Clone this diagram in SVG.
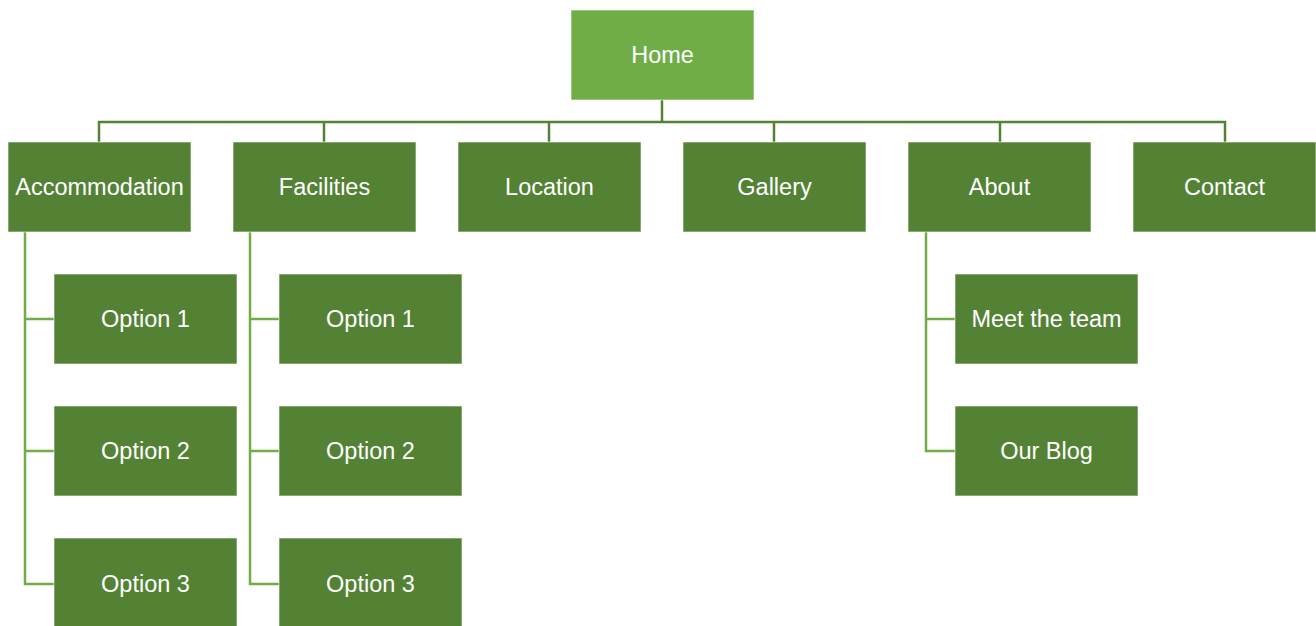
<svg xmlns="http://www.w3.org/2000/svg" width="1316" height="626" viewBox="0 0 1316 626">
<style>
.box{fill:#548235;stroke:#ffffff;stroke-width:1;stroke-opacity:0.6}
.root{fill:#70AD47;stroke:#ffffff;stroke-width:1;stroke-opacity:0.6}
text{font-family:"Liberation Sans",Arial,sans-serif;font-size:23.5px;fill:#ffffff;text-anchor:middle}
.top{fill:none;stroke:#548235;stroke-width:2.5}
.side{fill:none;stroke:#70AD47;stroke-width:2.5}
</style>
<rect width="1316" height="626" fill="#ffffff"/>
<g id="connectors">
<path class="top" d="M662 100V122M99 142V122H1225V142M324 122V142M549 122V142M774 122V142M1000 122V142"/>
<path class="side" d="M25 232V584H54M25 319H54M25 451H54"/>
<path class="side" d="M250 232V584H279M250 319H279M250 451H279"/>
<path class="side" d="M926 232V451H955M926 319H955"/>
</g>
<g id="home"><rect class="root" x="571" y="10" width="183" height="90"/><text x="662.5" y="63">Home</text></g>
<g id="accommodation"><rect class="box" x="8" y="142" width="183" height="90"/><text x="99.5" y="195">Accommodation</text></g>
<g id="facilities"><rect class="box" x="233" y="142" width="183" height="90"/><text x="324.5" y="195">Facilities</text></g>
<g id="location"><rect class="box" x="458" y="142" width="183" height="90"/><text x="549.5" y="195">Location</text></g>
<g id="gallery"><rect class="box" x="683" y="142" width="183" height="90"/><text x="774.5" y="195">Gallery</text></g>
<g id="about"><rect class="box" x="908" y="142" width="183" height="90"/><text x="999.5" y="195">About</text></g>
<g id="contact"><rect class="box" x="1133" y="142" width="183" height="90"/><text x="1224.5" y="195">Contact</text></g>
<g id="acc-option1"><rect class="box" x="54" y="274" width="183" height="90"/><text x="145.5" y="327">Option 1</text></g>
<g id="acc-option2"><rect class="box" x="54" y="406" width="183" height="90"/><text x="145.5" y="459">Option 2</text></g>
<g id="acc-option3"><rect class="box" x="54" y="538" width="183" height="90"/><text x="145.5" y="592">Option 3</text></g>
<g id="fac-option1"><rect class="box" x="279" y="274" width="183" height="90"/><text x="370.5" y="327">Option 1</text></g>
<g id="fac-option2"><rect class="box" x="279" y="406" width="183" height="90"/><text x="370.5" y="459">Option 2</text></g>
<g id="fac-option3"><rect class="box" x="279" y="538" width="183" height="90"/><text x="370.5" y="592">Option 3</text></g>
<g id="meet-the-team"><rect class="box" x="955" y="274" width="183" height="90"/><text x="1046.5" y="327">Meet the team</text></g>
<g id="our-blog"><rect class="box" x="955" y="406" width="183" height="90"/><text x="1046.5" y="459">Our Blog</text></g>
</svg>
